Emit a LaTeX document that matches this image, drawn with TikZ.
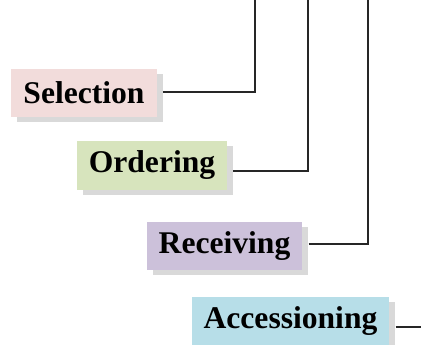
\documentclass[tikz,border=0pt]{standalone}
\usepackage{fontspec}
\setmainfont{Liberation Serif}
\usetikzlibrary{shadows}
\definecolor{selfill}{HTML}{F2DCDB}
\definecolor{ordfill}{HTML}{D7E4BD}
\definecolor{recfill}{HTML}{CCC1DA}
\definecolor{accfill}{HTML}{B7DEE8}
\definecolor{shadowgray}{HTML}{D9D9D9}
\begin{document}
\begin{tikzpicture}[x=1pt,y=1pt,
	stagebox/.style={fill=#1, inner xsep=12pt, minimum height=48pt,
		font=\fontsize{31.6}{36}\selectfont\bfseries,
		drop shadow={shadow xshift=6pt, shadow yshift=-5pt, fill=shadowgray, opacity=1}},
	link/.style={draw=black!85, line width=1.1pt}]
	\useasboundingbox (0,0) rectangle (421,-345);
	% Define the end points at the top
	\coordinate (T1) at (255,0);
	\coordinate (T2) at (308,0);
	\coordinate (T3) at (368,0);
	\coordinate (R4) at (421,-327);
	% Draw the stages
	\node[stagebox=selfill] (sel) at (84,-93) {Selection};
	\node[stagebox=ordfill] (ord) at (152,-165.5) {Ordering};
	\node[stagebox=recfill] (rec) at (224.5,-246) {Receiving};
	\node[stagebox=accfill] (acc) at (290.5,-321) {Accessioning};
	% Connect the stages
	\draw[link] ([xshift=6pt,yshift=1pt]sel.east) -| (T1);
	\draw[link] ([xshift=6pt,yshift=-5.5pt]ord.east) -| (T2);
	\draw[link] ([xshift=6pt,yshift=2pt]rec.east) -| (T3);
	\draw[link] ([xshift=6pt]acc.east |- R4) -- (R4);
\end{tikzpicture}
\end{document}
